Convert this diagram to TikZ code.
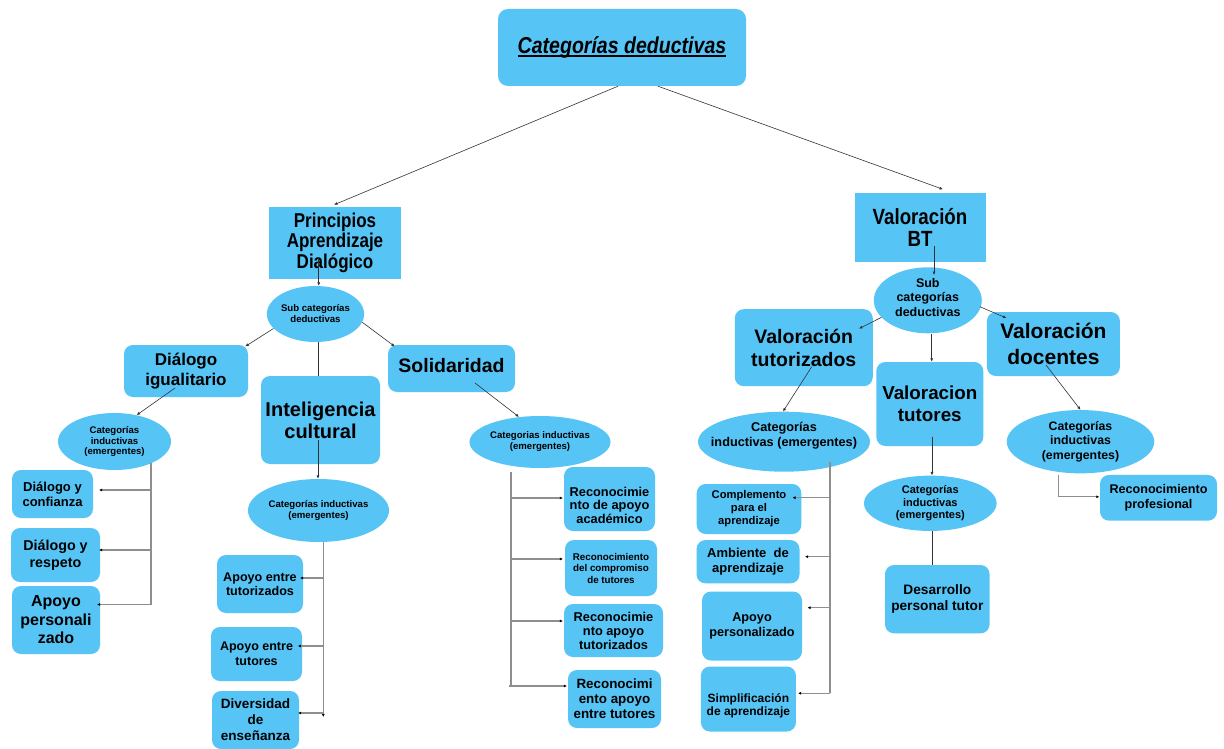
\documentclass[tikz,border=0pt]{standalone}
\usepackage{fontspec}
\setmainfont{Liberation Sans}
\newfontfamily\narrowfont[FakeStretch=0.85]{Liberation Sans}
\usetikzlibrary{shapes.geometric,arrows.meta,calc}
\definecolor{cblue}{HTML}{57C4F6}
\definecolor{lgray}{HTML}{8E8E8E}
\definecolor{dline}{HTML}{333333}
\newcommand\fs[2]{\fontsize{#1}{#2}\selectfont}
\newsavebox\ulbox
\newcommand\myul[1]{\sbox\ulbox{#1}\rlap{\rule[-3.2pt]{\wd\ulbox}{1.3pt}}\usebox\ulbox}
\begin{document}
\begin{tikzpicture}[x=1pt,y=-1pt,
 box/.style={fill=cblue, draw=none, rounded corners=9pt, inner sep=0pt, align=center},
 sq/.style={fill=cblue, draw=none, inner sep=0pt, align=center},
 ell/.style={ellipse, fill=cblue, draw=none, inner sep=0pt, align=center},
 arr/.style={draw=dline, line width=0.6pt, -{Latex[length=3.5pt,width=3pt]}},
 plain/.style={draw=dline, line width=0.6pt},
 vline/.style={draw=lgray, line width=1.1pt},
 branch/.style={draw=lgray, line width=1.1pt, -{Latex[length=3pt,width=3pt,color=black]}},
 lbl/.style={align=center, inner sep=0pt}
]
\fill[white] (0,0) rectangle (1224,749);
\useasboundingbox (0,0) rectangle (1224,749);

% top level
\node[box, rounded corners=10pt, minimum width=248, minimum height=77, font=\narrowfont\bfseries\itshape\fs{23}{27}] (title) at (622,47.5) {\myul{Categorías deductivas}};
\node[sq, minimum width=132, minimum height=72, font=\narrowfont\bfseries\fs{20}{20.5}] (princ) at (335,242.5) {Principios\\Aprendizaje\\Dialógico};
\node[sq, minimum width=131, minimum height=69, font=\narrowfont\bfseries\fs{22}{22}] (bt) at (920,227) {Valoración\\BT};

% left branch
\node[ell, minimum width=91, minimum height=56, font=\bfseries\fs{9.6}{11}] (subL) at (315.5,314) {Sub categorías\\deductivas};
\node[box, minimum width=124, minimum height=52, font=\bfseries\fs{17}{19.5}] (dialogo) at (186,371) {Diálogo\\igualitario};
\node[box, minimum width=119, minimum height=88, font=\bfseries\fs{20}{22}] (intel) at (320.5,420) {Inteligencia\\cultural};
\node[box, minimum width=127, minimum height=47, label={[lbl, font=\bfseries\fs{19.5}{22}, yshift=3pt]center:Solidaridad}] (solid) at (451.5,368.5) {};

\node[ell, minimum width=113, minimum height=57, font=\bfseries\fs{9.6}{10.8}] (indL) at (114.5,441.5) {Categorías\\inductivas\\(emergentes)};
\node[box, minimum width=81, minimum height=48, font=\bfseries\fs{13}{15}] (confianza) at (52.5,494) {Diálogo y\\confianza};
\node[box, minimum width=89, minimum height=54, font=\bfseries\fs{14.3}{16.6}] (respeto) at (55.5,555) {Diálogo y\\respeto};
\node[box, minimum width=88, minimum height=68, font=\bfseries\fs{16}{18.5}] (apoyoP) at (56,620) {Apoyo\\personali\\zado};

\node[ell, minimum width=137, minimum height=63, font=\bfseries\fs{9.6}{11.5}] (indI) at (318.5,510.5) {Categorías inductivas\\(emergentes)};
\node[box, minimum width=86, minimum height=58, font=\bfseries\fs{12.6}{14.5}] (tutzados) at (260,584) {Apoyo entre\\tutorizados};
\node[box, minimum width=91, minimum height=54, font=\bfseries\fs{12.5}{15.3}] (tutores) at (256.5,654) {Apoyo entre\\tutores};
\node[box, minimum width=87, minimum height=58, font=\bfseries\fs{13.5}{16}] (divers) at (255.5,720) {Diversidad\\de\\enseñanza};

\node[ell, minimum width=136, minimum height=52, font=\bfseries\fs{9.6}{11}] (indS) at (540,442) {Categorias inductivas\\(emergentes)};
\node[box, minimum width=91, minimum height=64, label={[lbl, font=\bfseries\fs{12.8}{13.5}, yshift=-6pt]center:{Reconocimie\\nto de apoyo\\académico}}] (recA) at (609.5,499) {};
\node[box, minimum width=92, minimum height=56, font=\bfseries\fs{9.8}{11.5}] (recB) at (611,568) {Reconocimiento\\del compromiso\\de tutores};
\node[box, minimum width=99, minimum height=53, font=\bfseries\fs{12.8}{14}] (recC) at (613.5,630.5) {Reconocimie\\nto apoyo\\tutorizados};
\node[box, minimum width=93, minimum height=58, font=\bfseries\fs{13.4}{15}] (recD) at (614.5,699) {Reconocimi\\ento apoyo\\entre tutores};

% right branch
\node[ell, minimum width=108, minimum height=66, label={[lbl, font=\bfseries\fs{12.5}{14.5}, yshift=3pt]center:{Sub\\categorías\\deductivas}}] (subR) at (927.8,300.3) {};
\node[box, minimum width=138, minimum height=77, font=\bfseries\fs{19.5}{22.5}] (vtz) at (803.75,347.7) {Valoración\\tutorizados};
\node[box, minimum width=107, minimum height=84, font=\bfseries\fs{18.8}{22}] (vtut) at (929.8,404) {Valoracion\\tutores};
\node[box, minimum width=133, minimum height=64, font=\bfseries\fs{21}{26}] (vdoc) at (1053.4,344) {Valoración\\docentes};

\node[ell, minimum width=172, minimum height=60, label={[lbl, font=\bfseries\fs{12.7}{15}, yshift=6pt]center:{Categorías\\inductivas (emergentes)}}] (indTz) at (784,441.7) {};
\node[ell, minimum width=147.5, minimum height=63.3, font=\bfseries\fs{12.3}{14.2}] (indD) at (1080.5,441.7) {Categorías\\inductivas\\(emergentes)};
\node[ell, minimum width=132.6, minimum height=55.3, font=\bfseries\fs{11}{12.2}] (indTu) at (930.3,503.3) {Categorías\\inductivas\\(emergentes)};

\node[box, minimum width=104.6, minimum height=50, font=\bfseries\fs{11.2}{13}] (compl) at (749,509) {Complemento\\para el\\aprendizaje};
\node[box, minimum width=103, minimum height=43.3, font=\bfseries\fs{13}{15}] (ambiente) at (748,561.7) {Ambiente~ de\\aprendizaje};
\node[box, minimum width=100, minimum height=69, font=\bfseries\fs{12.7}{14.7}] (apoyoP2) at (752,626) {Apoyo\\personalizado};
\node[box, minimum width=95, minimum height=65, label={[lbl, font=\bfseries\fs{12}{13.4}, yshift=-7pt]center:{Simplificación\\de aprendizaje}}] (simpl) at (748.4,699) {};
\node[box, minimum width=104.6, minimum height=68.3, font=\bfseries\fs{13.7}{16.5}] (desarrollo) at (937.3,599.2) {Desarrollo\\personal tutor};
\node[box, minimum width=117, minimum height=45.7, font=\bfseries\fs{12.6}{15}] (recProf) at (1158.5,497.8) {Reconocimiento\\profesional};

% connectors: top
\draw[arr] ($(title.south)+(-4,0)$) -- ($(princ.north)+(-1,-1.5)$);
\draw[arr] ($(title.south)+(36,0)$) -- ($(bt.north)+(23,-3)$);

% left part
\draw[arr] ($(princ.center)+(-16.25,15.8)$) -- ($(subL.north)+(3.25,0)$);
\draw[arr] (subL.199) -- ($(dialogo.north east)+(-3,1.7)$);
\draw[arr] (subL.-10) -- ($(solid.north west)+(7,1.7)$);
\draw[plain] ($(subL.south)+(2.5,0)$) -- ($(intel.north)+(-2.5,0)$);
\draw[arr] ($(dialogo.center)+(-11,17)$) -- (indL.50);
\draw[arr] ($(intel.center)+(-2.5,20)$) -- ($(indI.north)+(-0.5,0)$);
\draw[arr] ($(solid.center)+(23.5,14.5)$) -- (indS.130);

% bracket under indL
\coordinate (lt) at (151,463);
\coordinate (l1) at (151,490);
\coordinate (l2) at (151,550);
\coordinate (lb) at (151,604.5);
\draw[vline] (lt) -- (lb);
\draw[branch] (l1) -- ($(confianza.east)+(6,-4)$);
\draw[branch] (l2) -- ($(respeto.east)+(-1,-5)$);
\draw[branch] (lb) -- ($(apoyoP.east)+(-3,-15.5)$);

% bracket under indI
\coordinate (mt) at (323.3,542);
\coordinate (m1) at (323.3,578);
\coordinate (m2) at (323.3,646);
\coordinate (m3) at (323.3,713);
\coordinate (mb) at (323.3,717);
\draw[vline, -{Latex[length=3pt,width=3pt,color=black]}] (mt) -- (mb);
\draw[branch] (m1) -- ($(tutzados.east)+(-3,-6)$);
\draw[branch] (m2) -- ($(tutores.east)+(-4.3,-8)$);
\draw[branch] (m3) -- ($(divers.east)+(-1,-7)$);

% bracket under indS
\coordinate (st) at (511,472);
\coordinate (s1) at (511,498);
\coordinate (s2) at (511,559);
\coordinate (s3) at (511,621);
\coordinate (sb) at (511,687);
\coordinate (s4) at (509,686);
\draw[vline] (st) -- (sb);
\draw[branch] (s1) -- ($(recA.west)+(-1,-1)$);
\draw[branch] (s2) -- ($(recB.west)+(-2,-9)$);
\draw[branch] (s3) -- ($(recC.west)+(-1,-9.5)$);
\draw[branch] (s4) -- ($(recD.west)+(-1,-13)$);

% right part
\draw[arr] ($(bt.center)+(14,18.7)$) -- ($(subR.north)+(6.2,8)$);
\draw[arr] ($(subR.center)+(-46.3,17)$) -- ($(vtz.north east)+(-14,19.7)$);
\draw[arr] ($(subR.center)+(52.1,6.4)$) -- ($(vdoc.north west)+(19.8,6.3)$);
\draw[arr] ($(subR.south)+(3.9,0)$) -- ($(vtut.north)+(1.9,0)$);
\draw[arr] ($(vtz.center)+(8,19)$) -- ($(indTz.north)+(-1,0)$);
\draw[arr] ($(vdoc.center)+(-7.4,21)$) -- (indD.north);
\draw[arr] ($(vtut.center)+(2.2,32.7)$) -- ($(indTu.north)+(1.7,0)$);
\draw[plain] ($(indTu.south)+(1.7,0)$) -- ($(desarrollo.north)+(-5.3,0)$);

% bracket under indTz
\coordinate (rt) at (830,462);
\coordinate (r1) at (830,497.7);
\coordinate (r2) at (830,556.7);
\coordinate (r3) at (830,607.7);
\coordinate (rb) at (830,693.3);
\draw[vline] (rt) -- (rb);
\draw[branch] (r1) -- ($(compl.east)+(-9,-11.3)$);
\draw[branch] (r2) -- ($(ambiente.east)+(5.3,-5)$);
\draw[branch] (r3) -- ($(apoyoP2.east)+(5.3,-18.3)$);
\draw[branch] (rb) -- ($(simpl.east)+(2,-5.7)$);

% elbow under indD
\coordinate (dt) at (1058.3,475);
\draw[branch] (dt) |- ($(recProf.west)+(-0.5,-1)$);
\end{tikzpicture}
\end{document}
